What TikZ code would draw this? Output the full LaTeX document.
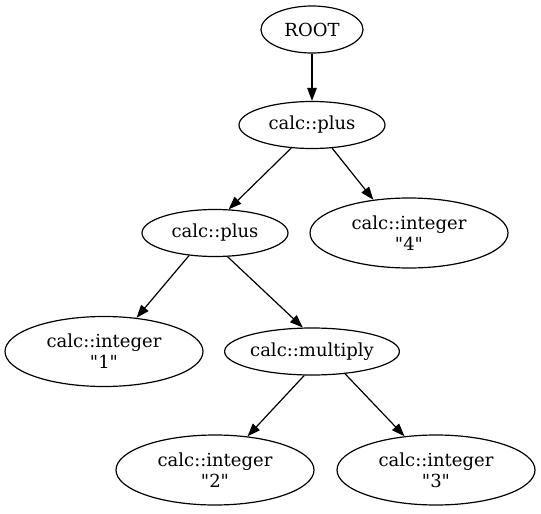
\documentclass[tikz,border=0pt]{standalone}
\usepackage{fontspec}
\setmainfont{DejaVu Serif}[Ligatures=TeXOff]
\usetikzlibrary{shapes.geometric,arrows.meta}
\begin{document}
\begin{tikzpicture}[x=1pt,y=-1pt,
  gnode/.style={draw,ellipse,line width=1.2pt,inner sep=0pt,align=center,
    font=\fontsize{18}{21}\selectfont},
  small/.style={gnode,minimum height=47pt},
  big/.style={gnode,minimum width=198pt,minimum height=70pt},
  edge/.style={line width=1.2pt,-{Triangle[length=13pt,width=9.5pt]}}]
\useasboundingbox (0,0) rectangle (541,514);
\node[small,minimum width=102pt] (root) at (312,29.5) {ROOT};
\node[small,minimum width=146pt] (p1) at (312,125) {calc::plus};
\node[small,minimum width=146pt] (p2) at (215,233) {calc::plus};
\node[big] (i4) at (409,233) {calc::integer\\"4"};
\node[big] (i1) at (104,351.5) {calc::integer\\"1"};
\node[small,minimum width=168pt] (m) at (312,351.5) {calc::multiply};
\node[big] (i2) at (215,470) {calc::integer\\"2"};
\node[big] (i3) at (436,470) {calc::integer\\"3"};
\draw[edge] (root.-90) -- (p1.90);
\draw[edge] (p1.-132) -- (p2.60);
\draw[edge] (p1.-49) -- (i4.137);
\draw[edge] (p2.-139) -- (i1.46);
\draw[edge] (p2.-62) -- (m.111);
\draw[edge] (m.-108) -- (i2.46);
\draw[edge] (m.-34) -- (i3.133);
\end{tikzpicture}
\end{document}
